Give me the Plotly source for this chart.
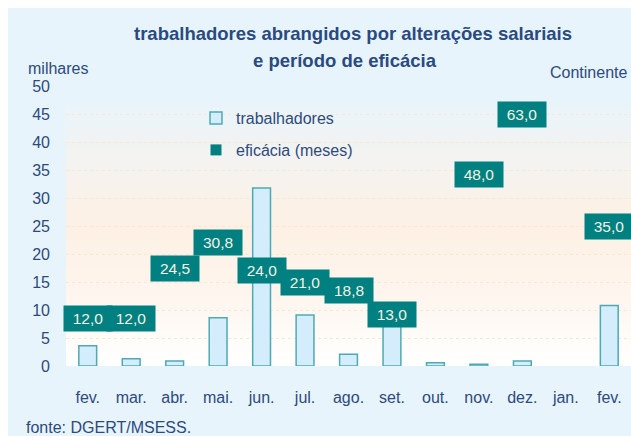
import plotly.graph_objects as go

months = ["fev.", "mar.", "abr.", "mai.", "jun.", "jul.", "ago.", "set.", "out.", "nov.", "dez.", "jan.", "fev."]
trabalhadores = [3.6, 1.3, 0.9, 8.6, 31.8, 9.1, 2.1, 8.0, 0.6, 0.3, 0.9, None, 10.8]
eficacia = [12.0, 12.0, 24.5, 30.8, 24.0, 21.0, 18.8, 13.0, None, 48.0, 63.0, None, 35.0]
y_ticks = [0, 5, 10, 15, 20, 25, 30, 35, 40, 45, 50]

FONT = "Liberation Sans, Arial, sans-serif"
TXT = "#2D4A7C"
TEAL = "#008080"

xs = list(range(len(months)))

fig = go.Figure()
fig.add_trace(go.Bar(
    x=xs, y=trabalhadores, name="trabalhadores", width=0.41,
    marker=dict(color="#D3EDFC", line=dict(color="#4FA9B2", width=1.5)),
    legend="legend",
))
fig.add_trace(go.Scatter(
    x=xs, y=eficacia, name="eficácia (meses)", yaxis="y2", mode="markers",
    marker=dict(symbol="square", size=11, color=TEAL),
    legend="legend2",
))

annotations = []
for i, v in zip(xs, eficacia):
    if v is None:
        continue
    annotations.append(dict(
        x=i, y=v, xref="x", yref="y2", showarrow=False,
        text=f"{v:.1f}".replace(".", ","),
        bgcolor=TEAL, font=dict(family=FONT, size=15.5, color="#F3F3E6"),
        width=44, height=21, borderpad=2,
    ))

W, H = 631, 436
L, T = 66, 86
B = H - 366
R = 0
pw, ph = W - L - R, H - T - B

def px_x(p):  # screen pixel -> paper
    return (p - L) / pw

def px_y(p):
    return (H - B - p) / ph

annotations += [
    dict(x=px_x(353), y=px_y(33), xref="paper", yref="paper", showarrow=False,
         text="<b>trabalhadores abrangidos por alterações salariais</b>",
         font=dict(family=FONT, size=18.5, color="#2A4A80"), xanchor="center", yanchor="middle"),
    dict(x=px_x(345), y=px_y(60), xref="paper", yref="paper", showarrow=False,
         text="<b>e período de eficácia</b>",
         font=dict(family=FONT, size=18.5, color="#2A4A80"), xanchor="center", yanchor="middle"),
    dict(x=px_x(26), y=px_y(68), xref="paper", yref="paper", showarrow=False,
         text="milhares", font=dict(family=FONT, size=16, color=TXT),
         xanchor="left", yanchor="middle"),
    dict(x=px_x(629), y=px_y(73), xref="paper", yref="paper", showarrow=False,
         text="Continente", font=dict(family=FONT, size=16, color=TXT),
         xanchor="right", yanchor="middle"),
    dict(x=px_x(24), y=px_y(427), xref="paper", yref="paper", showarrow=False,
         text="fonte: DGERT/MSESS.", font=dict(family=FONT, size=16, color=TXT),
         xanchor="left", yanchor="middle"),
]

def lerp(c1, c2, t):
    a = [int(c1[k:k + 2], 16) for k in (1, 3, 5)]
    b = [int(c2[k:k + 2], 16) for k in (1, 3, 5)]
    return "#%02x%02x%02x" % tuple(round(a[j] + (b[j] - a[j]) * t) for j in range(3))

stops = [(0.0, "#FFFFFF"), (0.25, "#FEF6EE"), (0.5, "#FDF0E4"), (0.72, "#F5F3F0"), (1.0, "#E6F4FD")]
shapes = []
N = 40
for i in range(N):
    f = (i + 0.5) / N
    for (p0, c0), (p1, c1) in zip(stops[:-1], stops[1:]):
        if p0 <= f <= p1:
            col = lerp(c0, c1, (f - p0) / (p1 - p0))
            break
    shapes.append(dict(type="rect", xref="paper", yref="paper", x0=0, x1=1,
                       y0=i / N, y1=(i + 1) / N + 0.002, fillcolor=col,
                       line=dict(width=0), layer="below"))
# white frame strips at top and left of the chart box
shapes.append(dict(type="rect", xref="paper", yref="paper", x0=px_x(-5), x1=px_x(W + 5),
                   y0=px_y(8), y1=px_y(-5), fillcolor="white", line=dict(width=0), layer="below"))
shapes.append(dict(type="rect", xref="paper", yref="paper", x0=px_x(-5), x1=px_x(8),
                   y0=px_y(H + 5), y1=px_y(-5), fillcolor="white", line=dict(width=0), layer="below"))

fig.update_layout(
    width=W, height=H,
    margin=dict(l=L, r=R, t=T, b=B, pad=0),
    paper_bgcolor="#E7F4FC",
    plot_bgcolor="rgba(0,0,0,0)",
    font=dict(family=FONT, size=16, color=TXT),
    showlegend=True,
    xaxis=dict(range=[-0.5, len(months) - 0.5], tickvals=xs, ticktext=months,
               showgrid=False, zeroline=False, showline=False, ticks="",
               ticklabelstandoff=20, tickfont=dict(size=16, color=TXT)),
    yaxis=dict(range=[0, 50], tickvals=y_ticks, showgrid=True,
               gridcolor="#FAE6D5", griddash="dot", gridwidth=1,
               zeroline=False, showline=False, ticks="", ticklabelstandoff=15,
               tickfont=dict(size=16, color=TXT)),
    yaxis2=dict(range=[0, 70], overlaying="y", side="right", visible=False,
                showgrid=False),
    legend=dict(x=px_x(196), y=px_y(101), xanchor="left", yanchor="top",
                bgcolor="rgba(0,0,0,0)", font=dict(size=16, color=TXT)),
    legend2=dict(x=px_x(196), y=px_y(133), xanchor="left", yanchor="top",
                 bgcolor="rgba(0,0,0,0)", font=dict(size=16, color=TXT)),
    annotations=annotations,
    shapes=shapes,
)

fig.write_html(
    "out.html",
    config={"displayModeBar": False},
    post_script="document.body.style.margin='0';document.documentElement.style.overflow='hidden';",
)
